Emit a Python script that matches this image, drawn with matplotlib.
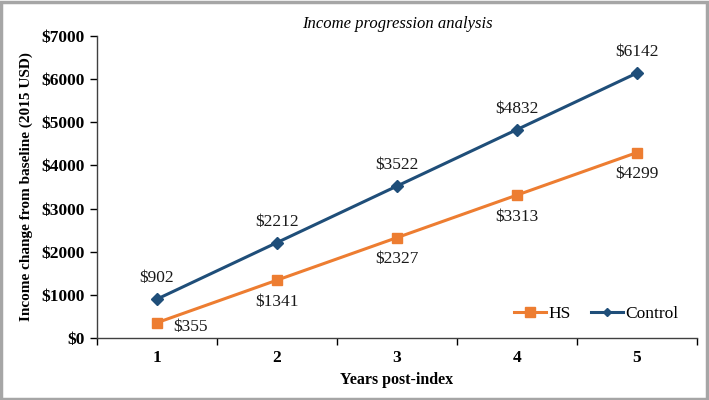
import matplotlib

matplotlib.use("Agg")

import matplotlib.pyplot as plt
from matplotlib.patches import Rectangle

years = [1, 2, 3, 4, 5]
hs_values = [355, 1341, 2327, 3313, 4299]
control_values = [902, 2212, 3522, 4832, 6142]
y_ticks = [0, 1000, 2000, 3000, 4000, 5000, 6000, 7000]

ORANGE = "#ED7D31"
BLUE = "#1F4E79"

plt.rcParams["font.family"] = ["Liberation Serif", "DejaVu Serif"]

fig = plt.figure(figsize=(7.09, 4.00), dpi=100)
ax = fig.add_axes([97 / 709, 62 / 400, 600 / 709, 302 / 400])

ax.plot(years, hs_values, color=ORANGE, linewidth=2.2, marker="s", markersize=7.5, label="HS")
ax.plot(years, control_values, color=BLUE, linewidth=2.2, marker="D", markersize=6.5, label="Control")

for x, v in zip(years, control_values):
    ax.annotate(f"${v}", (x, v), xytext=(0, 15), textcoords="offset points",
                ha="center", va="center", fontsize=12.5, color="#1a1a1a")

for i, (x, v) in enumerate(zip(years, hs_values)):
    offset = (24, -3) if i == 0 else (0, -15.5)
    ax.annotate(f"${v}", (x, v), xytext=offset, textcoords="offset points",
                ha="center", va="center", fontsize=12.5, color="#1a1a1a")

ax.set_xlim(0.5, 5.5)
ax.set_ylim(0, 7000)
ax.set_yticks(y_ticks)
ax.set_yticklabels([f"${t}" for t in y_ticks], fontweight="bold", fontsize=12.5)
ax.set_xticks(years)
ax.set_xticklabels([str(y) for y in years], fontweight="bold", fontsize=12.5)
ax.tick_params(axis="x", which="major", length=0, pad=9)
ax.set_xticks([x + 0.5 for x in [0] + years], minor=True)
ax.tick_params(axis="x", which="minor", length=5, direction="out", width=1)
ax.tick_params(axis="y", length=5, direction="out", width=1, pad=4)

for side in ("top", "right"):
    ax.spines[side].set_visible(False)
for side in ("left", "bottom"):
    ax.spines[side].set_linewidth(1)
    ax.spines[side].set_color("#404040")

ax.set_xlabel("Years post-index", fontweight="bold", fontsize=11.5, labelpad=4)
ax.set_ylabel("Income change from baseline (2015 USD)", fontweight="bold", fontsize=11, labelpad=6)
ax.set_title("Income progression analysis", fontstyle="italic", fontsize=12, pad=6)

leg = ax.legend(loc="lower right", bbox_to_anchor=(0.995, 0.0), ncol=2, frameon=False,
                fontsize=12.5, handlelength=1.8, handletextpad=0.15, columnspacing=1.2,
                markerscale=0.9)
leg.legend_handles[1].set_markersize(4)

fig.patches.append(Rectangle((0.002, 0.003), 0.995, 0.993, transform=fig.transFigure,
                             fill=False, edgecolor="#a6a6a6", linewidth=2.5))

fig.savefig("out.png", dpi=100)
plt.close(fig)
